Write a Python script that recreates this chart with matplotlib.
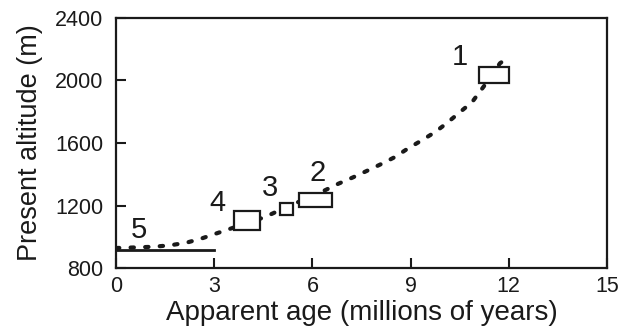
import matplotlib
matplotlib.use("Agg")
import matplotlib.pyplot as plt
from matplotlib.patches import Rectangle

# trend curve (age in Ma, altitude in m)
curve_age = [0.0, 0.64, 1.13, 1.65, 2.17, 2.63, 3.12, 4.55, 4.95, 6.4, 6.8, 7.24,
             7.7, 8.13, 8.52, 8.92, 9.35, 9.75, 10.1, 10.5, 10.88, 11.3, 11.73, 12.0]
curve_alt = [928, 932, 936, 945, 963, 990, 1025, 1126, 1165, 1299, 1340, 1380,
             1425, 1468, 1510, 1565, 1618, 1670, 1726, 1796, 1862, 1980, 2110, 2150]

# boxes: site, age range, altitude range
sites = ["1", "2", "3", "4"]
age_lo = [11.1, 5.6, 5.0, 3.6]
age_hi = [12.0, 6.6, 5.4, 4.4]
alt_lo = [1985, 1190, 1140, 1045]
alt_hi = [2085, 1280, 1215, 1165]

# site 5: bar
bar_age = [0, 3]
bar_alt = 915

label_age = [10.5, 6.15, 4.7, 3.1, 0.7]
label_alt = [2150, 1410, 1310, 1215, 1045]
label_txt = ["1", "2", "3", "4", "5"]

plt.rcParams["font.family"] = ["Liberation Sans", "DejaVu Sans"]
ink = "#1a1a1a"

fig = plt.figure(figsize=(6.26, 3.29), dpi=100)
ax = fig.add_axes([0.1853, 0.1854, 0.7843, 0.7599])

ax.plot(curve_age, curve_alt, color=ink, lw=3.0, linestyle=(0, (0.8, 2.7)),
        dash_capstyle="round", zorder=2)

for i in range(len(sites)):
    ax.add_patch(Rectangle((age_lo[i], alt_lo[i]), age_hi[i] - age_lo[i],
                           alt_hi[i] - alt_lo[i], facecolor="white",
                           edgecolor=ink, lw=1.6, zorder=3))

ax.plot(bar_age, [bar_alt, bar_alt], color=ink, lw=2.0, zorder=3)

for x, y, t in zip(label_age, label_alt, label_txt):
    ax.text(x, y, t, fontsize=21, ha="center", va="center", color=ink)

ax.set_xlim(0, 15)
ax.set_ylim(800, 2400)
ax.set_xticks([0, 3, 6, 9, 12, 15])
ax.set_yticks([800, 1200, 1600, 2000, 2400])
ax.tick_params(direction="in", length=7, width=1.5, labelsize=15.5, colors=ink)
ax.tick_params(axis="x", pad=6)
ax.tick_params(axis="y", pad=9)
for s in ax.spines.values():
    s.set_linewidth(1.6)
    s.set_color(ink)

ax.set_xlabel("Apparent age (millions of years)", fontsize=20, color=ink, labelpad=2)
ax.set_ylabel("Present altitude (m)", fontsize=19.5, color=ink, labelpad=9)

fig.savefig("out.png", dpi=100)
